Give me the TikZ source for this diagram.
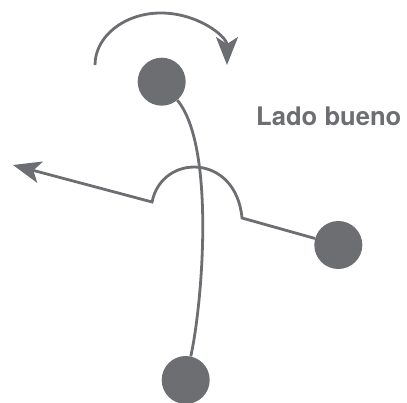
\documentclass[tikz,border=0pt]{standalone}
\usepackage{fontspec}
\setmainfont{TeX Gyre Heros}
\usetikzlibrary{arrows.meta}
\definecolor{ballgray}{RGB}{109,110,114}
\tikzset{
  ball/.style = {circle, fill=ballgray, minimum size=48pt, inner sep=0pt},
  rod/.style = {draw=ballgray, line width=2.8pt},
  tip/.style = {-{Stealth[length=28pt,width=22pt,inset=7pt]}}
}
\begin{document}
\begin{tikzpicture}[x=1pt,y=-1pt]
\useasboundingbox (0,0) rectangle (407,403);
\node[ball] (top) at (161.7,81.7) {};
\node[ball] (right) at (338.3,245) {};
\node[ball] (bottom) at (185.7,380) {};
\coordinate (spin) at (95,65);
\coordinate (head) at (13,165);
\node[anchor = base east, inner sep=0pt, text=ballgray, font=\bfseries\fontsize{25.6}{30}\selectfont] (side) at (401.5,125.7) {Lado bueno};
% the long rod, bending to the right
\draw[rod] (top) .. controls (215,145) and (203,300) .. (bottom);
% the turn above the top ball
\draw[rod, tip] (spin) arc[start angle=180, end angle=360, x radius=66, y radius=52];
% the short rod with its hump over the long one
\draw[rod, tip] (right) -- (242,218) .. controls (236,153) and (162,153) .. (152,202) -- (head);
\end{tikzpicture}
\end{document}
